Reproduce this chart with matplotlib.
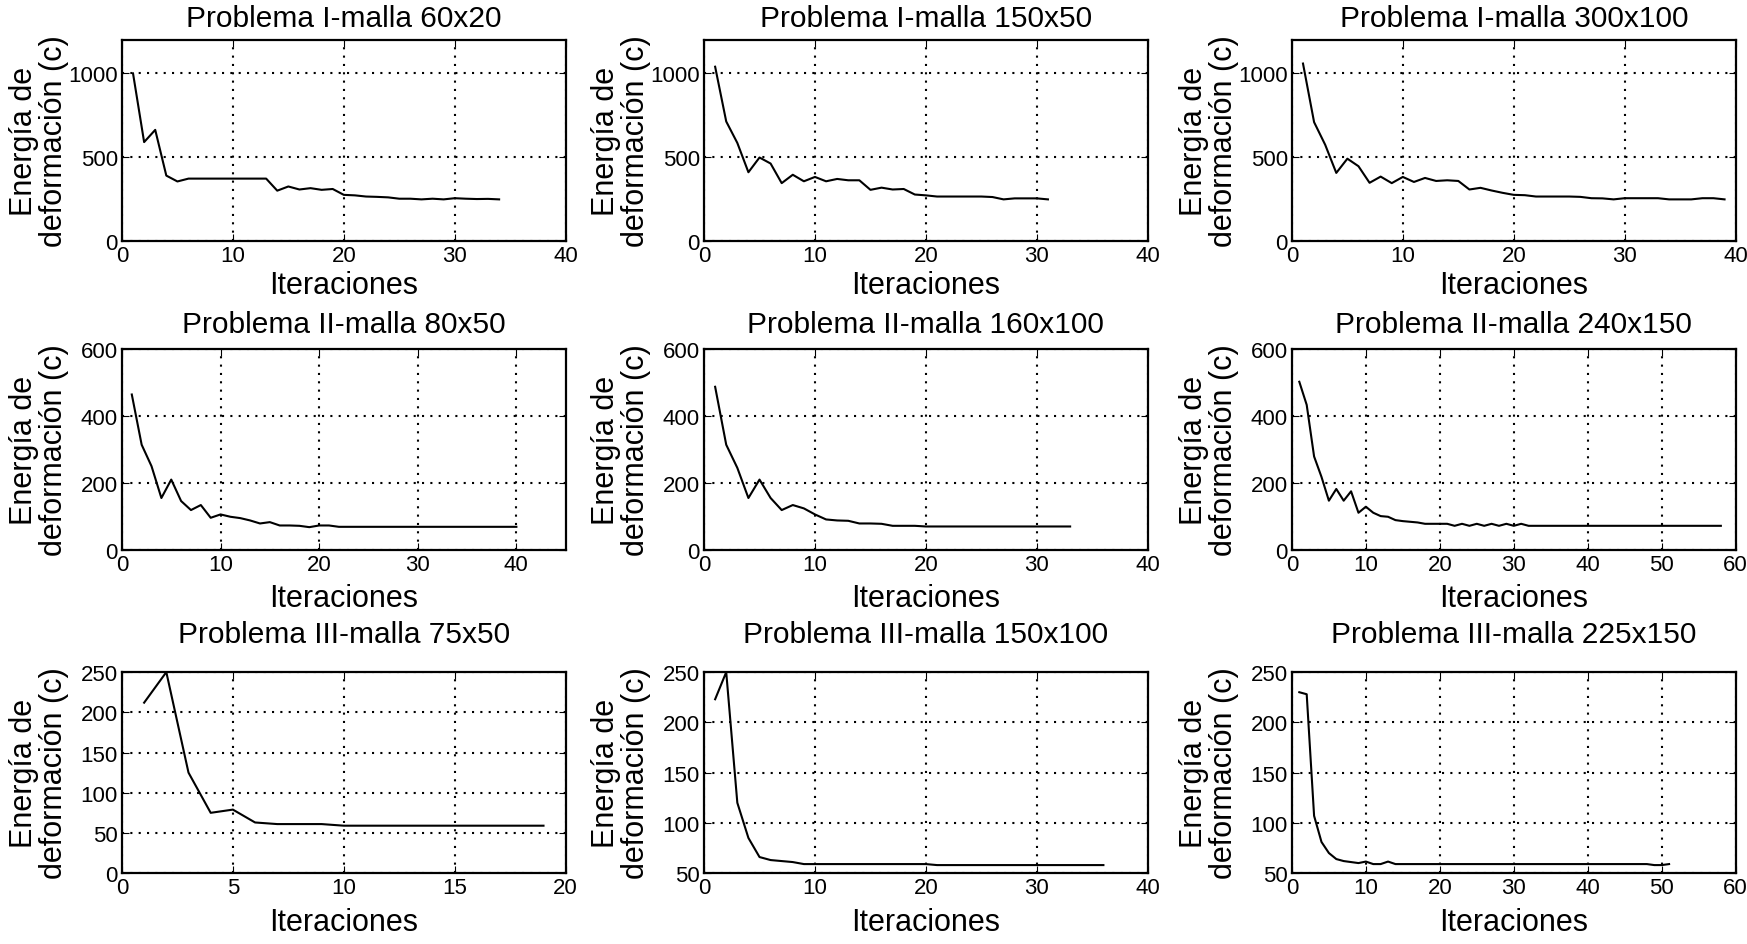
import numpy as np
import matplotlib
matplotlib.use("Agg")
import matplotlib.pyplot as plt

plt.rcParams['font.family'] = ['Liberation Sans', 'DejaVu Sans']

# Energy per iteration
titles = [
    "Problema I-malla 60x20", "Problema I-malla 150x50", "Problema I-malla 300x100",
    "Problema II-malla 80x50", "Problema II-malla 160x100", "Problema II-malla 240x150",
    "Problema III-malla 75x50", "Problema III-malla 150x100", "Problema III-malla 225x150",
]

p1_60x20 = [1000, 590, 663, 390, 355, 372, 372, 372, 372, 372, 372, 372, 372, 300, 325,
            307, 315, 305, 310, 275, 272, 265, 263, 260, 252, 252, 248, 252, 248, 255,
            252, 250, 251, 248]
p1_150x50 = [1040, 713, 585, 410, 498, 462, 345, 395, 356, 382, 356, 370, 362, 362, 305,
             318, 307, 310, 277, 272, 265, 265, 265, 265, 265, 262, 248, 254, 254, 254, 248]
p1_300x100 = [1059, 709, 574, 406, 491, 446, 347, 384, 345, 382, 352, 376, 358, 362, 358,
              307, 317, 301, 287, 275, 273, 265, 265, 265, 265, 263, 255, 254, 248, 255,
              255, 255, 255, 248, 248, 248, 255, 255, 248]
p2_80x50 = [464, 314, 250, 155, 210, 146, 119, 134, 96, 106, 99, 95, 88, 79, 83, 73, 73,
            72, 68, 73, 73] + [69] * 19
p2_160x100 = [487, 314, 245, 155, 210, 155, 119, 134, 124, 106, 91, 88, 87, 79, 79, 78,
              72, 72, 72] + [70] * 14
p2_240x150 = [502, 433, 279, 218, 147, 182, 147, 175, 111, 129, 111, 101, 99, 89, 86, 84,
              82, 78, 78, 78, 78, 72, 78, 72, 78, 72, 78, 72, 78, 72, 78] + [72] * 27
p3_75x50 = [212, 250, 125, 75, 79, 63, 61, 61, 61] + [59] * 10
p3_150x100 = [223, 250, 120, 85, 66, 63, 62, 61] + [59] * 12 + [58] * 16
p3_225x150 = [230, 228, 107, 81, 70, 64, 62, 61, 60, 61.5, 59, 59, 61.5] + [59] * 35 + [58, 58, 59]

series = [p1_60x20, p1_150x50, p1_300x100,
          p2_80x50, p2_160x100, p2_240x150,
          p3_75x50, p3_150x100, p3_225x150]

xlims = [40, 40, 40, 45, 40, 60, 20, 40, 60]
xsteps = [10, 10, 10, 10, 10, 10, 5, 10, 10]
xtick_max = [40, 40, 40, 40, 40, 60, 20, 40, 60]
ylims = [(0, 1200)] * 3 + [(0, 600)] * 3 + [(0, 250), (50, 250), (50, 250)]
yticks = [[0, 500, 1000]] * 3 + [[0, 200, 400, 600]] * 3 + \
         [[0, 50, 100, 150, 200, 250], [50, 100, 150, 200, 250], [50, 100, 150, 200, 250]]

fig = plt.figure(figsize=(17.47, 9.45), dpi=100)

lefts = [0.0698, 0.403, 0.7395]
bottoms = [0.744, 0.417, 0.075]
title_pads = [10, 12, 22]
xlabel_pads = [3, 6, 6]
w, h = 0.254, 0.2127

for i in range(9):
    r, c = divmod(i, 3)
    ax = fig.add_axes([lefts[c], bottoms[r], w, h])
    y = series[i]
    x = np.arange(1, len(y) + 1)
    ax.plot(x, y, color="black", lw=1.5)

    ax.set_xlim(0, xlims[i])
    ax.set_xticks(np.arange(0, xtick_max[i] + 1, xsteps[i]))
    ax.set_ylim(*ylims[i])
    ax.set_yticks(yticks[i])

    ax.grid(True, color="black", linestyle=(0, (1, 3)), linewidth=1.5)
    ax.tick_params(direction="in", length=5, top=True, right=True, labelsize=16, pad=3)
    for s in ax.spines.values():
        s.set_linewidth(1.6)

    ax.set_title(titles[i], fontsize=21.5, pad=title_pads[r])
    ax.set_xlabel("Iteraciones", fontsize=22, labelpad=xlabel_pads[r])
    ax.set_ylabel("Energía de\ndeformación (c)", fontsize=22, linespacing=1.0)
    ax.yaxis.set_label_coords(-0.12, 0.5)

plt.savefig("out.png", dpi=100)
